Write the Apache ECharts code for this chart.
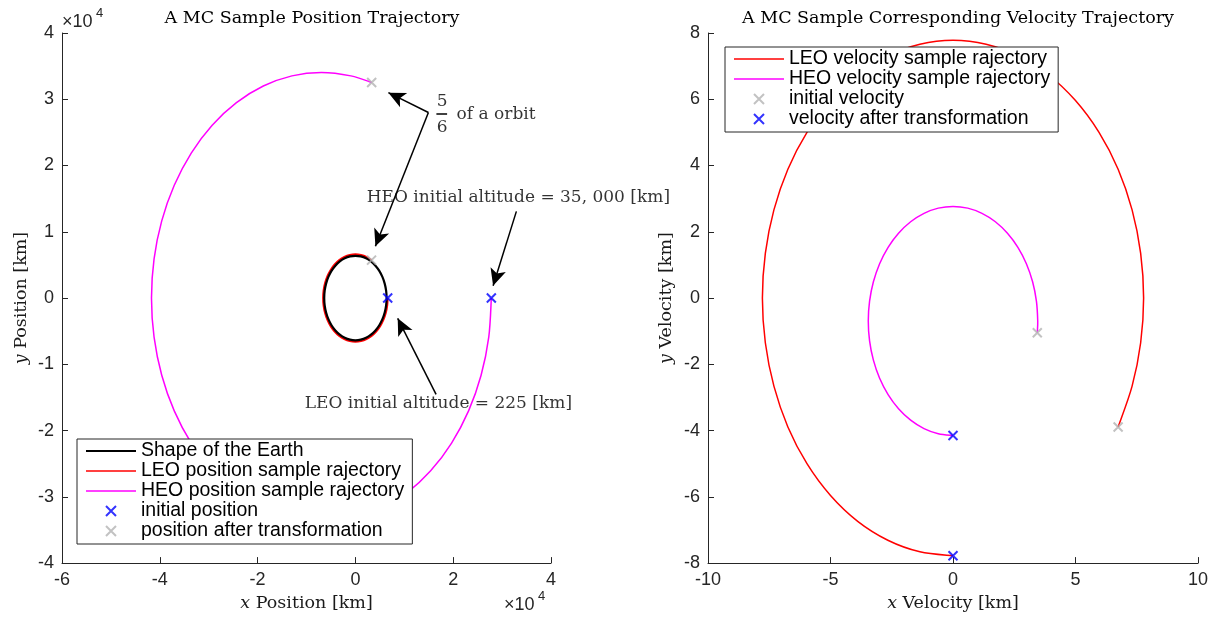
<!DOCTYPE html>
<html>
<head>
<meta charset="utf-8">
<script src="https://cdn.jsdelivr.net/npm/echarts@6/dist/echarts.min.js"></script>
<style>
  html, body { margin: 0; padding: 0; background: #fff; }
  #chart { width: 1232px; height: 617px; }
</style>
</head>
<body>
<div id="chart"></div>
<script>
// ---- Position trajectories (km) ----
const earthX = [6378, 6281, 5993, 5523, 4886, 4100, 3189, 2181, 1107, 0, -1107, -2181, -3189, -4100, -4886, -5523, -5993, -6281,
                -6378, -6281, -5993, -5523, -4886, -4100, -3189, -2181, -1107, 0, 1107, 2181, 3189, 4100, 4886, 5523, 5993, 6281, 6378];
const earthY = [0, 1107, 2181, 3189, 4100, 4886, 5523, 5993, 6281, 6378, 6281, 5993, 5523, 4886, 4100, 3189, 2181, 1107,
                0, -1107, -2181, -3189, -4100, -4886, -5523, -5993, -6281, -6378, -6281, -5993, -5523, -4886, -4100, -3189, -2181, -1107, 0];

const leoPosX = [6603, 6503, 6205, 5718, 5058, 4244, 3302, 2258, 1146, 0, -1146, -2258, -3302, -4244, -5058, -5718,
                 -6205, -6503, -6603, -6503, -6205, -5718, -5058, -4244, -3302, -2258, -1146, 0, 1146, 2258, 3302];
const leoPosY = [0, -1146, -2258, -3302, -4244, -5058, -5718, -6205, -6503, -6603, -6503, -6205, -5718, -5058, -4244, -3302,
                 -2258, -1146, 0, 1146, 2258, 3302, 4244, 5058, 5718, 6205, 6503, 6603, 6503, 6205, 5718];

const heoPosX = [27800, 27272, 25705, 23144, 19669, 15387, 10425, 4935, -917, -6950, -12983, -18835, -24325, -29287, -33569,
                 -37044, -39605, -41172, -41700, -41172, -39605, -37044, -33569, -29287, -24325, -18835, -12983, -6950, -917, 3326];
const heoPosY = [0, -5911, -11644, -17024, -21886, -26081, -29486, -31995, -33530, -34048, -33530, -31995, -29486, -26081, -21886,
                 -17024, -11644, -5911, 0, 5911, 11644, 17024, 21886, 26081, 29486, 31995, 33530, 34048, 33530, 32526];

const posInitial = [[6603, 0], [27800, 0]];
const posAfter = [[3302, 5718], [3326, 32526]];

// ---- Velocity trajectories (km/s) ----
const leoVelX = [0, -1.35, -2.66, -3.89, -5.00, -5.96, -6.74, -7.31, -7.66, -7.78, -7.66, -7.31, -6.74, -5.96, -5.00, -3.89,
                 -2.66, -1.35, 0, 1.35, 2.66, 3.89, 5.00, 5.96, 6.74, 7.31, 7.66, 7.78, 7.66, 7.31, 6.74];
const leoVelY = [-7.78, -7.66, -7.31, -6.74, -5.96, -5.00, -3.89, -2.66, -1.35, 0, 1.35, 2.66, 3.89, 5.00, 5.96, 6.74,
                 7.31, 7.66, 7.78, 7.66, 7.31, 6.74, 5.96, 5.00, 3.89, 2.66, 1.35, 0, -1.35, -2.66, -3.89];

const heoVelX = [0, -0.600, -1.183, -1.729, -2.223, -2.649, -2.995, -3.249, -3.405, -3.458, -3.405, -3.249, -2.995, -2.649, -2.223,
                 -1.729, -1.183, -0.600, 0, 0.600, 1.183, 1.729, 2.223, 2.649, 2.995, 3.249, 3.405, 3.458, 3.440];
const heoVelY = [-4.150, -4.097, -3.941, -3.686, -3.340, -2.914, -2.421, -1.874, -1.292, -0.692, -0.091, 0.491, 1.037, 1.531, 1.957,
                 2.303, 2.558, 2.714, 2.766, 2.714, 2.558, 2.303, 1.957, 1.531, 1.037, 0.491, -0.091, -0.692, -1.047];

const velInitial = [[6.74, -3.89], [3.44, -1.047]];
const velAfter = [[0, -7.78], [0, -4.15]];

// ---- Axis ranges [min, max, interval] ----
const posXRange = [-60000, 40000, 20000];
const posYRange = [-40000, 40000, 10000];
const velXRange = [-10, 10, 5];
const velYRange = [-8, 8, 2];

const zip = (xs, ys) => xs.map((x, i) => [x, ys[i]]);

const AX = '#262626';
const SANS = 'Liberation Sans';
const SERIF = 'DejaVu Serif';
const RED = '#ff0000', MAG = '#ff00ff', BLUE = '#0000ff', GRAY = '#b3b3b3';
const CROSS = 'path://M0 0 L10 10 M10 0 L0 10';

function valueAxis(range, gridIndex, name, nameGap, scaleLabel) {
  return {
    type: 'value', gridIndex,
    min: range[0], max: range[1], interval: range[2],
    name, nameLocation: 'middle', nameGap,
    nameTextStyle: {
      fontFamily: SERIF, fontSize: 17.5, color: '#1a1a1a',
      rich: { i: { fontFamily: SERIF, fontSize: 17.5, fontStyle: 'italic', color: '#1a1a1a' } }
    },
    axisLine: { show: true, onZero: false, lineStyle: { color: AX, width: 1 } },
    axisTick: { show: true, inside: true, length: 6, lineStyle: { color: AX, width: 1 } },
    axisLabel: {
      fontFamily: SANS, fontSize: 18, color: AX, margin: 8,
      formatter: v => String(scaleLabel ? Math.round(v / scaleLabel) : v)
    },
    splitLine: { show: false }
  };
}

// Smooth trajectory: points are mapped through the axes (api.coord) and
// joined with a Catmull-Rom curve written as cubic Bezier segments.
function curveSeries(name, xs, ys, color, width, axisIdx, z) {
  const pts = zip(xs, ys);
  const closed = xs[0] === xs[xs.length - 1] && ys[0] === ys[ys.length - 1];
  return {
    type: 'custom', name, data: pts,
    xAxisIndex: axisIdx, yAxisIndex: axisIdx,
    encode: { x: 0, y: 1 }, z, silent: true,
    itemStyle: { color },
    renderItem: (params, api) => {
      if (params.dataIndex !== 0) return null;
      const p = pts.map(v => api.coord(v));
      const n = p.length;
      const at = (i) => {
        if (i < 0) return closed ? p[n - 2] : p[0];
        if (i >= n) return closed ? p[1] : p[n - 1];
        return p[i];
      };
      let d = `M${p[0][0]} ${p[0][1]}`;
      for (let i = 0; i < n - 1; i++) {
        const p0 = at(i - 1), p1 = p[i], p2 = p[i + 1], p3 = at(i + 2);
        const c1x = p1[0] + (p2[0] - p0[0]) / 6, c1y = p1[1] + (p2[1] - p0[1]) / 6;
        const c2x = p2[0] - (p3[0] - p1[0]) / 6, c2y = p2[1] - (p3[1] - p1[1]) / 6;
        d += ` C${c1x} ${c1y} ${c2x} ${c2y} ${p2[0]} ${p2[1]}`;
      }
      return { type: 'path', shape: { pathData: d }, style: { fill: null, stroke: color, lineWidth: width } };
    }
  };
}

function crossSeries(name, data, color, axisIdx) {
  return {
    type: 'scatter', name, data,
    xAxisIndex: axisIdx, yAxisIndex: axisIdx,
    symbol: CROSS, symbolSize: 9, z: 5,
    itemStyle: { color: 'rgba(0,0,0,0)', borderColor: color, borderWidth: 2 }
  };
}

const noteText = { fontFamily: SERIF, fontSize: 17, color: '#000' };
const arrowEnd = (c) => ({ coord: c, symbol: 'arrow', symbolSize: [12, 17] });
const plainEnd = (c) => ({ coord: c, symbol: 'none' });

// annotations on the position panel: text anchors and arrows
const notes = {
  type: 'scatter', name: 'notes', xAxisIndex: 0, yAxisIndex: 0,
  symbolSize: 1, silent: true, z: 6,
  itemStyle: { color: 'rgba(0,0,0,0)' },
  data: [
    { value: [17730, 29669], label: { show: true, position: 'inside', formatter: '5', ...noteText } },
    { value: [17730, 25669], label: { show: true, position: 'inside', formatter: '6', ...noteText } },
    { value: [20593, 27669], label: { show: true, position: 'right', distance: 0, formatter: 'of a orbit', ...noteText } },
    { value: [33333, 15188], label: { show: true, position: 'inside', formatter: 'HEO initial altitude = 35, 000 [km]', ...noteText } },
    { value: [16973, -15940], label: { show: true, position: 'inside', formatter: 'LEO initial altitude = 225 [km]', ...noteText } }
  ],
  markLine: {
    silent: true, animation: false,
    label: { show: false },
    lineStyle: { color: '#000', width: 1.5, type: 'solid' },
    data: [
      [plainEnd([14928, 28000]), arrowEnd([6750, 31000])],
      [plainEnd([14928, 28000]), arrowEnd([4090, 7820])],
      [plainEnd([32924, 13083]), arrowEnd([28160, 1850])],
      [plainEnd([16500, -14540]), arrowEnd([8650, -3060])],
      [plainEnd([16564, 27774]), plainEnd([18753, 27774])]
    ]
  }
};

function legend(left, top, items) {
  return {
    orient: 'vertical', left, top,
    itemWidth: 50, itemHeight: 10, itemGap: 0, selectedMode: false,
    padding: [2, 8, 3, 9],
    backgroundColor: '#fff', borderColor: AX, borderWidth: 1, borderRadius: 0,
    textStyle: { fontFamily: SANS, fontSize: 19.5, color: '#000', lineHeight: 19 },
    data: items
  };
}
// line entries: a thin bar the width of the sample; cross entries use the series symbol
const lineItem = (name, w) => ({ name, icon: `path://M0 0H50V${w}H0Z` });
const crossItem = (name) => ({ name, itemStyle: { borderWidth: 2 } });

const titleStyle = { fontFamily: SERIF, fontSize: 17.5, fontWeight: 'normal', color: '#000' };

const option = {
  animation: false,
  backgroundColor: '#fff',
  title: [
    { text: 'A MC Sample Position Trajectory', left: 307, top: 4, textAlign: 'center', textStyle: titleStyle },
    { text: 'A MC Sample Corresponding Velocity Trajectory', left: 953, top: 4, textAlign: 'center', textStyle: titleStyle }
  ],
  grid: [
    { left: 62, top: 33, width: 489, height: 532, containLabel: false },
    { left: 708, top: 33, width: 490, height: 532, containLabel: false }
  ],
  xAxis: [
    valueAxis(posXRange, 0, '{i|x} Position [km]', 26, 1e4),
    valueAxis(velXRange, 1, '{i|x} Velocity [km]', 26, 0)
  ],
  yAxis: [
    valueAxis(posYRange, 0, '{i|y} Position [km]', 32, 1e4),
    valueAxis(velYRange, 1, '{i|y} Velocity [km]', 33, 0)
  ],
  legend: [
    legend(77, 439, [
      lineItem('Shape of the Earth', 2.2),
      lineItem('LEO position sample rajectory', 1.5),
      lineItem('HEO position sample rajectory', 1.5),
      crossItem('initial position'),
      crossItem('position after transformation')
    ]),
    legend(725, 47, [
      lineItem('LEO velocity sample rajectory', 1.5),
      lineItem('HEO velocity sample rajectory', 1.5),
      crossItem('initial velocity'),
      crossItem('velocity after transformation')
    ])
  ],
  graphic: [
    { type: 'text', left: 62, top: 13, style: { text: '×10', font: '18px "Liberation Sans"', fill: AX } },
    { type: 'text', left: 96, top: 7, style: { text: '4', font: '13px "Liberation Sans"', fill: AX } },
    { type: 'text', left: 504, top: 596, style: { text: '×10', font: '18px "Liberation Sans"', fill: AX } },
    { type: 'text', left: 538, top: 590, style: { text: '4', font: '13px "Liberation Sans"', fill: AX } }
  ],
  series: [
    curveSeries('LEO position sample rajectory', leoPosX, leoPosY, RED, 2, 0, 2),
    curveSeries('Shape of the Earth', earthX, earthY, '#000', 2.2, 0, 3),
    curveSeries('HEO position sample rajectory', heoPosX, heoPosY, MAG, 1.5, 0, 2),
    crossSeries('initial position', posInitial, BLUE, 0),
    crossSeries('position after transformation', posAfter, GRAY, 0),
    notes,
    curveSeries('LEO velocity sample rajectory', leoVelX, leoVelY, RED, 1.5, 1, 2),
    curveSeries('HEO velocity sample rajectory', heoVelX, heoVelY, MAG, 1.5, 1, 2),
    crossSeries('initial velocity', velInitial, GRAY, 1),
    crossSeries('velocity after transformation', velAfter, BLUE, 1)
  ]
};

const chart = echarts.init(document.getElementById('chart'), null, { renderer: 'canvas' });
chart.setOption(option);
</script>
</body>
</html>
